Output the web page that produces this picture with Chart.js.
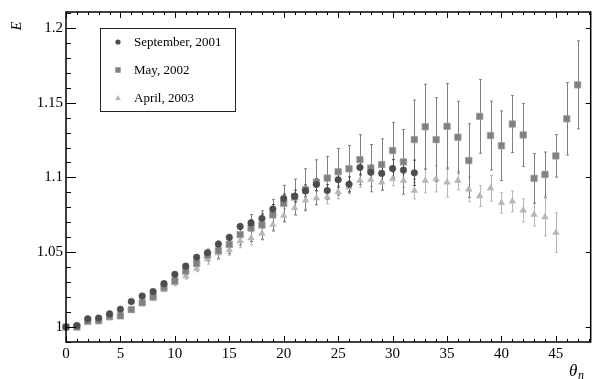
<!DOCTYPE html>
<html>
<head>
<meta charset="utf-8">
<script src="https://cdn.jsdelivr.net/npm/chart.js@4"></script>
<style>
  html, body { margin: 0; padding: 0; background: #fff; }
  #wrap { width: 596px; height: 379px; }
</style>
</head>
<body>
<div id="wrap"><canvas id="c" width="596" height="379"></canvas></div>
<script>
// --- data ---
const seriesNames = ['September, 2001', 'May, 2002', 'April, 2003'];

const sep2001 = [1.000, 1.001, 1.0055, 1.006, 1.0088, 1.0119, 1.017, 1.0207, 1.0237, 1.029,
  1.0352, 1.0407, 1.0466, 1.0497, 1.0554, 1.0599, 1.0672, 1.0696, 1.0726, 1.0789,
  1.0859, 1.0875, 1.091, 1.0953, 1.0912, 1.0985, 1.0954, 1.1067, 1.1034, 1.1027,
  1.1059, 1.1049, 1.1031];
const sep2001Err = [0, 0.0005, 0.0005, 0.0005, 0.0005, 0.0005, 0.001, 0.001, 0.001, 0.001,
  0.001, 0.0015, 0.0015, 0.0015, 0.002, 0.002, 0.002, 0.002, 0.003, 0.003,
  0.003, 0.004, 0.004, 0.004, 0.004, 0.005, 0.005, 0.005, 0.005, 0.006,
  0.006, 0.006, 0.0085];

const may2002 = [1.000, 1.000, 1.0038, 1.0042, 1.007, 1.0075, 1.0117, 1.0163, 1.0202, 1.0264,
  1.0308, 1.0374, 1.0425, 1.0481, 1.051, 1.0552, 1.0618, 1.0662, 1.0682, 1.075,
  1.0827, 1.0869, 1.0918, 1.0968, 1.0996, 1.1038, 1.1058, 1.1119, 1.1062, 1.1086,
  1.118, 1.1104, 1.1253, 1.1339, 1.1253, 1.1342, 1.1269, 1.1113, 1.1408, 1.128,
  1.1212, 1.1357, 1.1284, 1.0994, 1.102, 1.1144, 1.1392, 1.1619];
const may2002Err = [0, 0.0008, 0.0008, 0.0008, 0.0008, 0.0008, 0.0012, 0.0012, 0.0012, 0.0012,
  0.002, 0.002, 0.002, 0.004, 0.005, 0.006, 0.007, 0.009, 0.0095, 0.0102,
  0.012, 0.012, 0.014, 0.015, 0.0144, 0.0156, 0.0156, 0.0167, 0.0158, 0.0172,
  0.0188, 0.0216, 0.0264, 0.0284, 0.028, 0.0285, 0.024, 0.0246, 0.0246, 0.023,
  0.0233, 0.019, 0.021, 0.0165, 0.015, 0.0142, 0.0242, 0.0294];

const apr2003 = [1.000, 1.001, 1.0035, 1.004, 1.006, 1.0073, 1.011, 1.0155, 1.019, 1.0249,
  1.0295, 1.034, 1.039, 1.0455, 1.0495, 1.0515, 1.0575, 1.0594, 1.0627, 1.0684,
  1.0745, 1.0796, 1.0847, 1.0862, 1.0869, 1.0902, 1.0935, 1.0979, 1.0985, 1.0968,
  1.099, 1.0979, 1.0912, 1.0979, 1.099, 1.0968, 1.0979, 1.092, 1.0875, 1.0928,
  1.083, 1.084, 1.078, 1.0752, 1.0735, 1.0631];
const apr2003Err = [0, 0.0008, 0.0008, 0.0008, 0.0008, 0.0008, 0.0012, 0.0012, 0.0012, 0.0012,
  0.002, 0.002, 0.002, 0.0035, 0.0044, 0.0035, 0.0045, 0.0045, 0.0045, 0.0045,
  0.0045, 0.0045, 0.006, 0.0045, 0.0045, 0.0045, 0.0045, 0.0045, 0.0045, 0.0045,
  0.0045, 0.0045, 0.0055, 0.0082, 0.0087, 0.0099, 0.0063, 0.0082, 0.007, 0.0087,
  0.0068, 0.0069, 0.0077, 0.0076, 0.0126, 0.0132];

const xTicks = [0, 5, 10, 15, 20, 25, 30, 35, 40, 45];
const yTicks = [1, 1.05, 1.1, 1.15, 1.2];

const colors = ['#4d4d4d', '#808080', '#b6b6b6'];
const SERIF = '"Liberation Serif", "DejaVu Serif", serif';

function toPoints(vals) {
  return vals.map((v, i) => ({ x: i, y: v }));
}

const errs = [sep2001Err, may2002Err, apr2003Err];

// --- error bars, drawn under the markers ---
const errorBars = {
  id: 'errorBars',
  beforeDatasetsDraw(chart) {
    const { ctx, scales: { x, y } } = chart;
    ctx.save();
    ctx.lineWidth = 1;
    for (let d = chart.data.datasets.length - 1; d >= 0; d--) {
      const ds = chart.data.datasets[d];
      ctx.strokeStyle = colors[d];
      ds.data.forEach((p, i) => {
        const e = errs[d][i];
        if (!e) return;
        const px = Math.round(x.getPixelForValue(p.x)) + 0.5;
        const y0 = y.getPixelForValue(p.y - e);
        const y1 = y.getPixelForValue(p.y + e);
        ctx.beginPath();
        ctx.moveTo(px, y0); ctx.lineTo(px, y1);
        ctx.moveTo(px - 1.5, y0); ctx.lineTo(px + 1.5, y0);
        ctx.moveTo(px - 1.5, y1); ctx.lineTo(px + 1.5, y1);
        ctx.stroke();
      });
    }
    ctx.restore();
  }
};

// --- frame, inward ticks, legend box, axis titles ---
const frame = {
  id: 'frame',
  afterDraw(chart) {
    const { ctx, chartArea: a, scales: { x, y } } = chart;
    ctx.save();
    ctx.strokeStyle = '#000';
    ctx.lineWidth = 1.5;
    ctx.strokeRect(a.left, a.top, a.right - a.left, a.bottom - a.top);

    ctx.lineWidth = 1;
    ctx.beginPath();
    for (let v = 0; v <= 48; v++) {
      const px = Math.round(x.getPixelForValue(v)) + 0.5;
      const len = v % 5 === 0 ? 6 : 3;
      ctx.moveTo(px, a.bottom); ctx.lineTo(px, a.bottom - len);
      ctx.moveTo(px, a.top); ctx.lineTo(px, a.top + len);
    }
    for (let k = 99; k <= 121; k++) {
      const v = k / 100;
      const py = Math.round(y.getPixelForValue(v)) + 0.5;
      const major = k % 5 === 0;
      ctx.moveTo(a.left, py); ctx.lineTo(a.left + (major ? 10 : 5), py);
      if (major) { ctx.moveTo(a.right, py); ctx.lineTo(a.right - 5, py); }
    }
    ctx.stroke();

    // legend
    ctx.fillStyle = '#fff';
    ctx.fillRect(100.5, 28.5, 135, 83);
    ctx.strokeStyle = '#222';
    ctx.lineWidth = 1;
    ctx.strokeRect(100.5, 28.5, 135, 83);
    ctx.font = '13px ' + SERIF;
    ctx.textBaseline = 'middle';
    const rows = [42, 70, 98];
    seriesNames.forEach((name, i) => {
      const cy = rows[i], cx = 118;
      ctx.fillStyle = colors[i];
      ctx.beginPath();
      if (i === 0) ctx.arc(cx, cy, 2.6, 0, Math.PI * 2);
      else if (i === 1) ctx.rect(cx - 2.7, cy - 2.7, 5.4, 5.4);
      else { ctx.moveTo(cx, cy - 3); ctx.lineTo(cx + 2.8, cy + 2); ctx.lineTo(cx - 2.8, cy + 2); ctx.closePath(); }
      ctx.fill();
      ctx.fillStyle = '#000';
      ctx.fillText(name, 134, cy + 1);
    });

    // axis titles
    ctx.fillStyle = '#000';
    ctx.save();
    ctx.translate(21, 26);
    ctx.rotate(-Math.PI / 2);
    ctx.font = 'italic 14px ' + SERIF;
    ctx.textAlign = 'center';
    ctx.textBaseline = 'alphabetic';
    ctx.fillText('E', 0, 0);
    ctx.restore();
    ctx.font = 'italic 17px ' + SERIF;
    ctx.textBaseline = 'alphabetic';
    ctx.fillText('θ', 569, 376);
    ctx.font = 'italic 12px ' + SERIF;
    ctx.fillText('n', 578, 379);
    ctx.restore();
  }
};

const mk = (label, vals, i, style, r) => ({
  label,
  data: toPoints(vals),
  pointStyle: style,
  pointRadius: r,
  pointHoverRadius: r,
  backgroundColor: colors[i],
  borderColor: i === 1 ? '#9c9c9c' : colors[i],
  borderWidth: i === 1 ? 0.8 : 0.5,
  showLine: false,
  clip: false
});

new Chart(document.getElementById('c'), {
  type: 'scatter',
  data: {
    datasets: [
      mk(seriesNames[0], sep2001, 0, 'circle', 3.3),
      mk(seriesNames[1], may2002, 1, 'rect', 4.5),
      mk(seriesNames[2], apr2003, 2, 'triangle', 3.8)
    ]
  },
  options: {
    responsive: false,
    animation: false,
    devicePixelRatio: 1,
    layout: { padding: { top: 7, right: 1, left: 0, bottom: 0 } },
    plugins: { legend: { display: false }, tooltip: { enabled: false } },
    scales: {
      x: {
        type: 'linear', min: 0, max: 48.2,
        grid: { display: false, drawTicks: false },
        border: { display: false },
        afterBuildTicks: s => { s.ticks = xTicks.map(v => ({ value: v })); },
        afterFit: s => { s.height = 37; },
        ticks: { color: '#000', font: { family: SERIF, size: 15 }, padding: 3, maxRotation: 0,
          callback: v => String(v) }
      },
      y: {
        type: 'linear', min: 0.99, max: 1.2106,
        grid: { display: false, drawTicks: false },
        border: { display: false },
        afterBuildTicks: s => { s.ticks = yTicks.map(v => ({ value: v })); },
        afterFit: s => { s.width = 66; },
        ticks: { color: '#000', font: { family: SERIF, size: 15 }, padding: 3,
          callback: v => String(Math.round(v * 100) / 100) }
      }
    }
  },
  plugins: [errorBars, frame]
});
</script>
</body>
</html>
